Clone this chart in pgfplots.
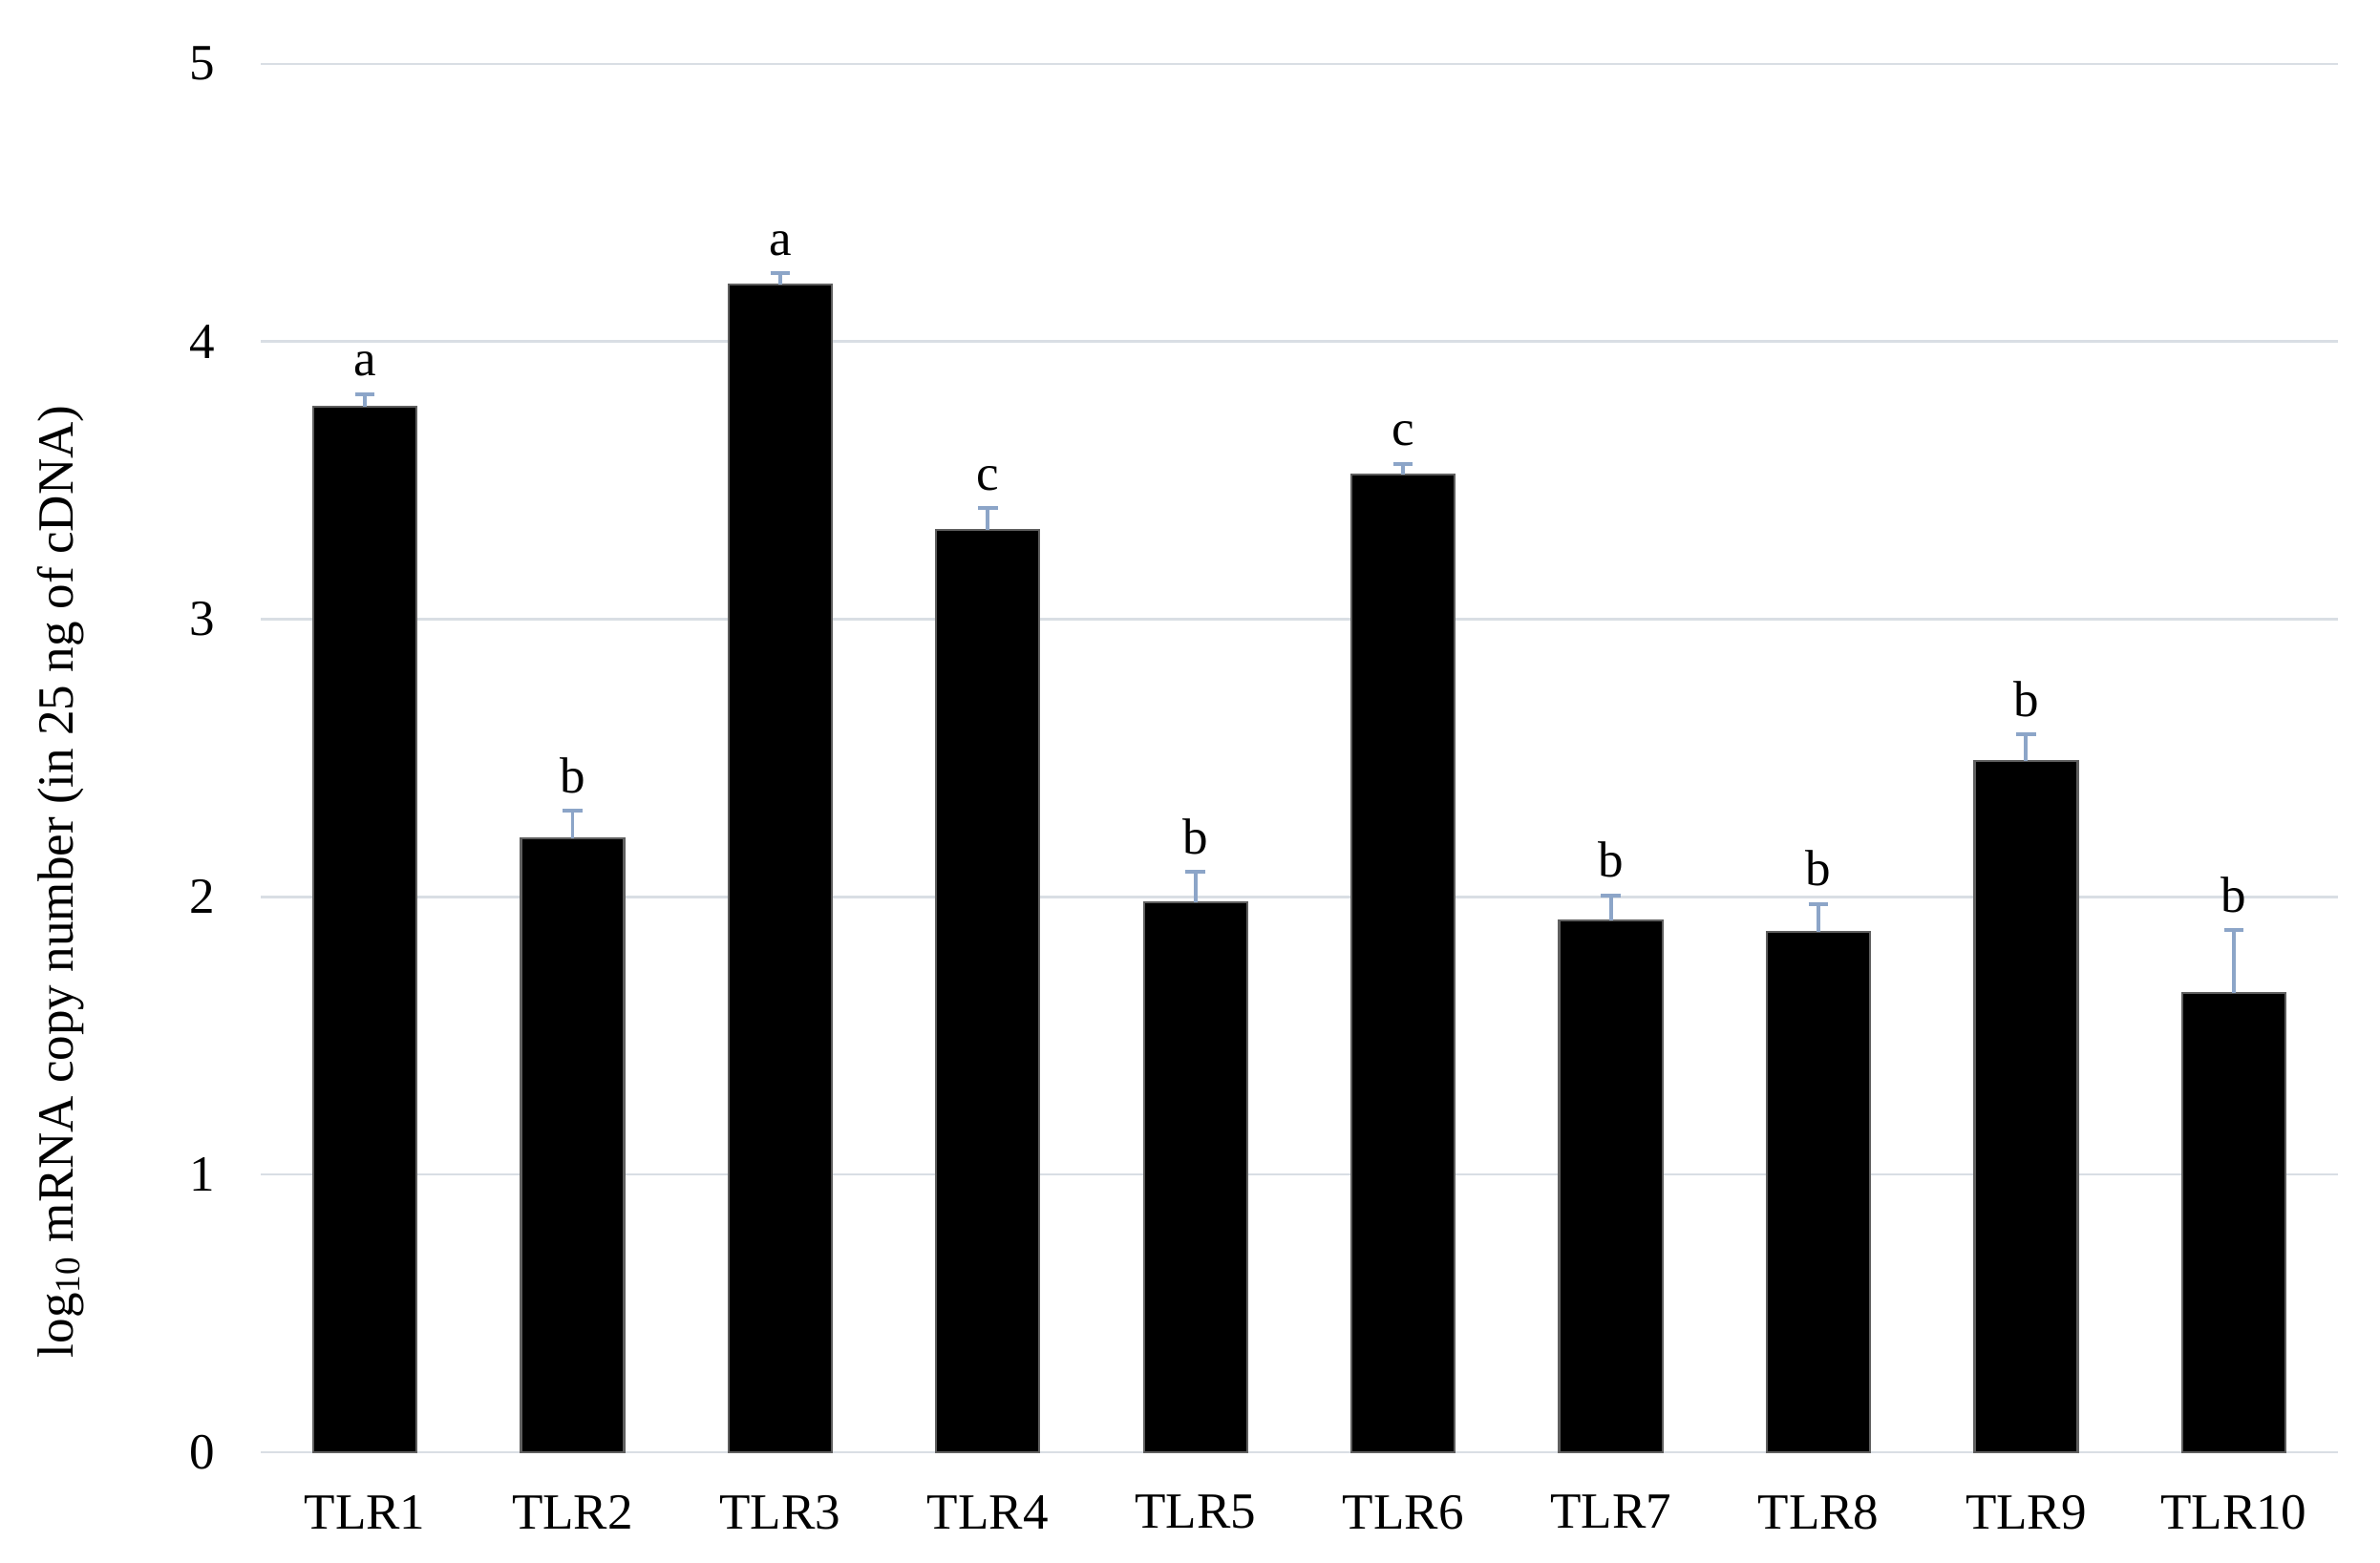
\documentclass[border=0pt]{standalone}
\usepackage{fontspec}
\setmainfont{Liberation Serif}
\usepackage{pgfplots}
\usepackage{pgfplotstable}
\pgfplotsset{compat=1.18}

\definecolor{gridgray}{RGB}{217,222,228}
\definecolor{errblue}{RGB}{140,165,200}
\definecolor{edgegray}{RGB}{95,95,95}

\pgfplotstableread{
x val err lab
0 3.765 0.045 a
1 2.21  0.100 b
2 4.205 0.040 a
3 3.32  0.080 c
4 1.98  0.110 b
5 3.52  0.040 c
6 1.915 0.090 b
7 1.875 0.100 b
8 2.49  0.095 b
9 1.655 0.225 b
}\tlr

\newcommand{\fs}{\fontsize{9.5}{11}\selectfont}

\begin{document}
\begin{tikzpicture}
\begin{axis}[
    scale only axis,
    width=136.8mm,
    height=91.5mm,
    xmin=-0.5, xmax=9.5,
    ymin=0, ymax=5,
    ytick={0,1,2,3,4,5},
    xtick={0,...,9},
    xticklabels={TLR1,TLR2,TLR3,TLR4,TLR5,TLR6,TLR7,TLR8,TLR9,TLR10},
    major tick length=0pt,
    axis line style={draw=none},
    ymajorgrids,
    major grid style={draw=gridgray, line width=0.45pt},
    /pgf/number format/assume math mode=true,
    tick label style={font=\fs},
    yticklabel style={xshift=-1.8mm},
    xticklabel style={yshift=-1.6mm},
    ylabel={log\textsubscript{10} mRNA copy number (in 25 ng of cDNA)},
    ylabel style={font=\fs, at={(axis description cs:-0.0965,0.411)}, anchor=center, rotate=0},
    clip=false,
]
\addplot[ybar, bar width=6.8mm, fill=black, draw=edgegray, line width=0.4pt,
    error bars/.cd, y dir=plus, y explicit,
    error bar style={errblue, line width=0.7pt},
    error mark options={errblue, rotate=90, mark size=0.65mm, line width=0.7pt}]
    table[x=x, y=val, y error=err] {\tlr};
\addplot[draw=none, mark=none, nodes near coords, point meta=explicit symbolic,
    every node near coord/.append style={font=\fs, anchor=base, yshift=1.2mm, inner sep=0pt}]
    table[x=x, y expr=\thisrow{val}+\thisrow{err}, meta=lab] {\tlr};
\end{axis}
\useasboundingbox (-17.2mm,-7.3mm) rectangle (139.6mm,95.7mm);
\end{tikzpicture}
\end{document}
